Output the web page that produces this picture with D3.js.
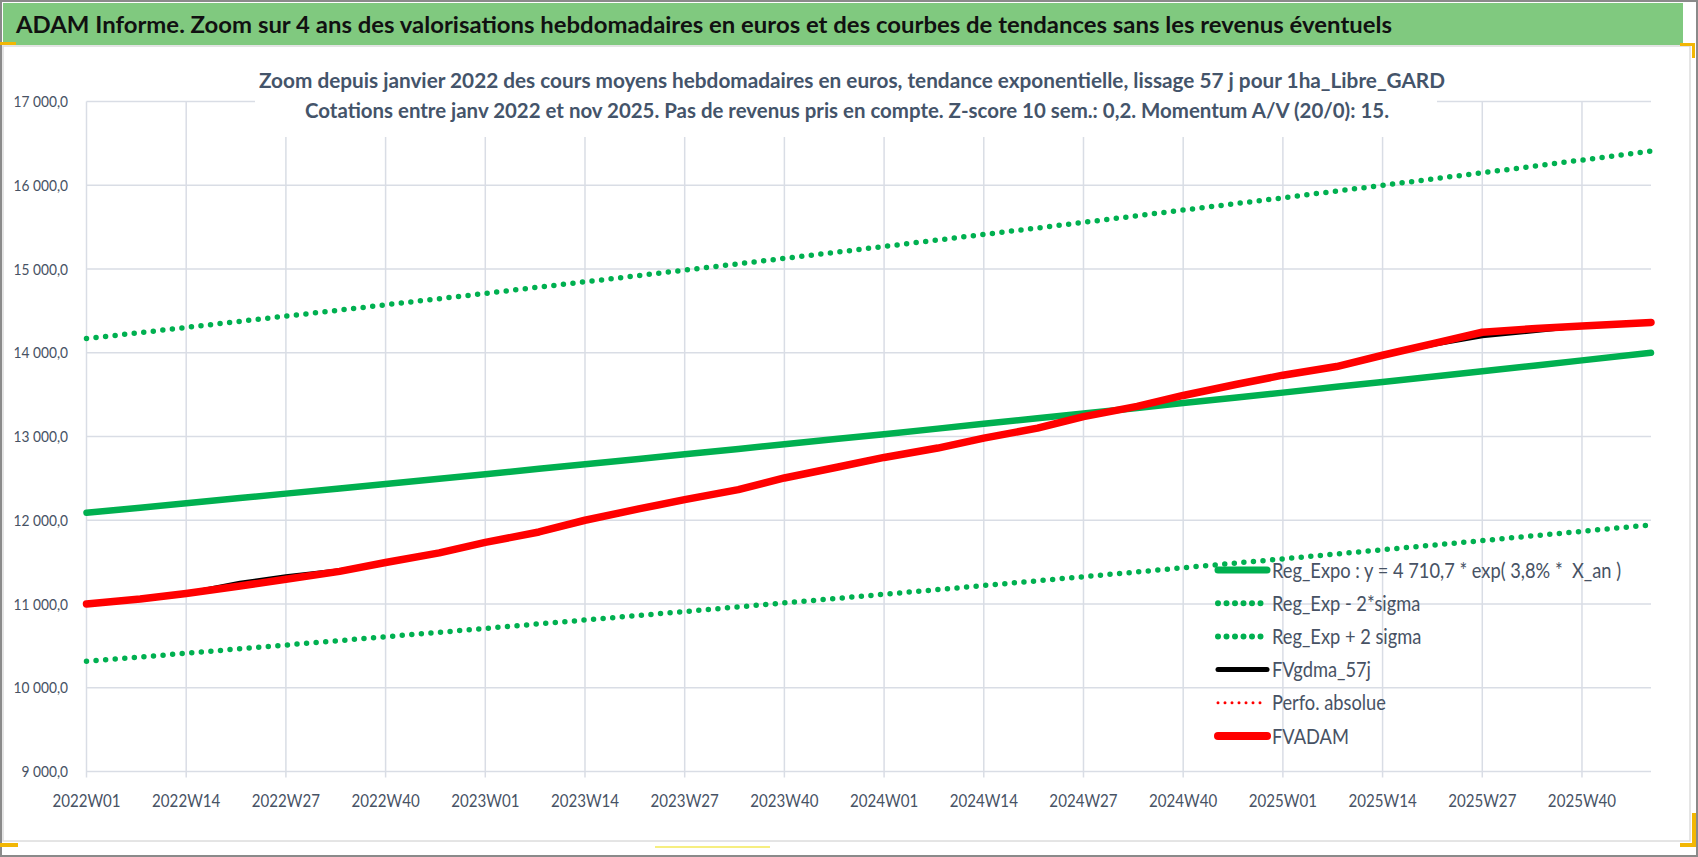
<!DOCTYPE html>
<html lang="fr">
<head>
<meta charset="UTF-8">
<title>ADAM Informe - 1ha_Libre_GARD</title>
<style>
  body { margin: 0; background: #fff; }
  svg { display: block; font-family: Lato, "Open Sans", sans-serif; }
  .grid line { stroke: #d9dde5; stroke-width: 1.5; }
  .ylab, .xlab { fill: #475264; }
  .legend text { fill: #475264; font-size: 21px; white-space: pre; }
</style>
</head>
<body>
<svg id="chart" width="1698" height="857"></svg>
<script src="https://cdn.jsdelivr.net/npm/d3@7"></script>
<script>
// categories: ISO weeks shown on the axis
const years = [2022, 2023, 2024, 2025];
const weeksInYear = [52, 52, 52, 49];   // last year runs to nov 2025
const tickWeeks = ["2022W01","2022W14","2022W27","2022W40","2023W01","2023W14","2023W27","2023W40",
                   "2024W01","2024W14","2024W27","2024W40","2025W01","2025W14","2025W27","2025W40"];
const yTicks = [9000, 10000, 11000, 12000, 13000, 14000, 15000, 16000, 17000];

const sampleWeeks = ["2022W01","2022W08","2022W14","2022W21","2022W27","2022W34","2022W40","2022W47",
                     "2023W01","2023W08","2023W14","2023W21","2023W27","2023W34","2023W40","2023W47",
                     "2024W01","2024W08","2024W14","2024W21","2024W27","2024W34","2024W40","2024W47",
                     "2025W01","2025W08","2025W14","2025W21","2025W27","2025W34","2025W40","2025W49"];

const regExpo = [12090,12150,12203,12265,12318,12380,12434,12496,12550,12614,12668,12732,12787,12852,12907,12972,
                 13028,13094,13151,13217,13274,13341,13399,13466,13524,13593,13651,13720,13779,13849,13909,13999];
const regMinus = [10316,10367,10412,10465,10510,10563,10609,10662,10708,10763,10809,10863,10910,10966,11013,11068,
                  11116,11172,11221,11277,11326,11383,11433,11490,11539,11598,11648,11706,11757,11817,11868,11945];
const regPlus = [14169,14240,14302,14375,14437,14509,14573,14645,14709,14784,14847,14922,14986,15063,15127,15203,
                 15269,15346,15413,15490,15557,15636,15704,15782,15850,15931,15999,16080,16149,16231,16301,16407];
const fvgdma = [11000,11060,11125,11250,11330,11400,11495,11610,11735,11860,12000,12135,12246,12365,12505,12636,
                12750,12862,12981,13100,13238,13360,13490,13624,13732,13835,13970,14105,14200,14262,14320,14362];
const fvadam = [11000,11060,11125,11215,11295,11390,11495,11610,11735,11860,12000,12135,12246,12365,12505,12636,
                12750,12862,12981,13100,13238,13360,13490,13624,13732,13835,13970,14118,14245,14290,14320,14362];

const headerText = "ADAM Informe. Zoom sur 4 ans des valorisations hebdomadaires en euros et des courbes de tendances sans les revenus éventuels";
const titleLines = ["Zoom depuis janvier 2022 des cours moyens hebdomadaires en euros, tendance exponentielle, lissage 57 j pour 1ha_Libre_GARD",
                    "Cotations entre janv 2022 et nov 2025. Pas de revenus pris en compte. Z-score 10 sem.: 0,2. Momentum A/V (20/0): 15."];

const series = [
  {name: "Reg_Expo : y = 4 710,7 * exp( 3,8% *  X_an )", values: regExpo, color: "#00b050", width: 6.5, dots: false},
  {name: "Reg_Exp - 2*sigma", values: regMinus, color: "#00b050", width: 5.5, dots: true},
  {name: "Reg_Exp + 2 sigma", values: regPlus, color: "#00b050", width: 5.5, dots: true},
  {name: "FVgdma_57j", values: fvgdma, color: "#000000", width: 4.5, dots: false},
  {name: "Perfo. absolue", values: null, color: "#ff0000", width: 2.5, dots: true},
  {name: "FVADAM", values: fvadam, color: "#ff0000", width: 7.5, dots: false}
];

const weeks = [];
years.forEach((y, i) => {
  for (let w = 1; w <= weeksInYear[i]; w++) weeks.push(y + "W" + String(w).padStart(2, "0"));
});

const svg = d3.select("#chart");
const plot = {left: 86.5, right: 1651, top: 101.5, bottom: 771.5};

const x = d3.scalePoint().domain(weeks).range([plot.left, plot.right]);
const y = d3.scaleLinear().domain([9000, 17000]).range([plot.bottom, plot.top]);

// frame and header
svg.append("rect").attr("x", 3).attr("y", 46).attr("width", 1687).attr("height", 795)
  .attr("fill", "#fff").attr("stroke", "#dcdcdc").attr("stroke-width", 1.5);
svg.append("rect").attr("x", 3).attr("y", 3).attr("width", 1680).attr("height", 42).attr("fill", "#80c97f");
svg.append("text").attr("x", 16).attr("y", 33).attr("font-size", 23).attr("font-weight", "bold").attr("fill", "#111")
  .attr("textLength", 1376).attr("lengthAdjust", "spacingAndGlyphs").text(headerText);
svg.append("rect").attr("x", 1).attr("y", 1).attr("width", 1696).attr("height", 855)
  .attr("fill", "none").attr("stroke", "#8a8a8a").attr("stroke-width", 2);

// Excel selection marks
const marks = [[0, 42, 16, 3, "#f2b705"], [1680, 43, 14, 3, "#f2b705"], [1692, 43, 3, 15, "#f2b705"],
               [1692, 813, 4, 34, "#f2b705"], [1680, 843, 16, 4, "#f2b705"], [0, 843, 18, 4, "#f2b705"],
               [655, 846, 115, 2, "#f6ee80"]];
svg.append("g").selectAll("rect").data(marks).join("rect")
  .attr("x", d => d[0]).attr("y", d => d[1]).attr("width", d => d[2]).attr("height", d => d[3]).attr("fill", d => d[4]);

// grid
const grid = svg.append("g").attr("class", "grid");
grid.selectAll(".h").data(yTicks).join("line")
  .attr("x1", plot.left).attr("x2", plot.right).attr("y1", d => y(d)).attr("y2", d => y(d));
grid.selectAll(".v").data(tickWeeks).join("line")
  .attr("x1", d => x(d)).attr("x2", d => x(d)).attr("y1", plot.top).attr("y2", plot.bottom + 6);

// y labels (narrowed like the original)
const fmt = v => d3.format(",.1f")(v).replace(",", " ").replace(".", ",");
svg.append("g").selectAll("g").data(yTicks).join("g")
  .attr("transform", d => `translate(68,${y(d) + 5.5}) scale(0.86,1)`)
  .append("text").attr("class", "ylab").attr("text-anchor", "end").attr("font-size", 16).text(fmt);

// x labels
svg.append("g").selectAll("g").data(tickWeeks).join("g")
  .attr("transform", d => `translate(${x(d)},807) scale(0.84,1)`)
  .append("text").attr("class", "xlab").attr("text-anchor", "middle").attr("font-size", 18).text(d => d);

// title box hides the grid behind it
svg.append("rect").attr("x", 255).attr("y", 56).attr("width", 1182).attr("height", 81).attr("fill", "#fff");
const tl = [[852, 88, 1186], [847, 118, 1084]];
svg.append("g").selectAll("text").data(titleLines).join("text")
  .attr("x", (d, i) => tl[i][0]).attr("y", (d, i) => tl[i][1])
  .attr("text-anchor", "middle").attr("font-size", 21).attr("font-weight", "bold").attr("fill", "#44546a")
  .attr("textLength", (d, i) => tl[i][2]).attr("lengthAdjust", "spacingAndGlyphs").text(d => d);

// series
const line = d3.line().x(d => x(d[0])).y(d => y(d[1]));
series.filter(s => s.values).forEach(s => {
  svg.append("path")
    .datum(sampleWeeks.map((w, i) => [w, s.values[i]]))
    .attr("d", line).attr("fill", "none")
    .attr("stroke", s.color).attr("stroke-width", s.width)
    .attr("stroke-linecap", "round").attr("stroke-linejoin", "round")
    .attr("stroke-dasharray", s.dots ? "0 9.6" : null);
});

// legend
const lg = svg.append("g").attr("class", "legend").attr("transform", "translate(1218,570)");
const row = lg.selectAll("g").data(series).join("g").attr("transform", (d, i) => `translate(0,${i * 33.2})`);
row.append("line").attr("x1", 0).attr("x2", 49)
  .attr("stroke", d => d.color)
  .attr("stroke-width", d => d.name === "Perfo. absolue" ? 3 : d.width + 0.5)
  .attr("stroke-linecap", "round")
  .attr("stroke-dasharray", d => d.dots ? (d.name === "Perfo. absolue" ? "0 7" : "0 8.5") : null);
row.append("g").attr("transform", "translate(54,7.5) scale(0.87,1)")
  .append("text").text(d => d.name);
</script>
</body>
</html>
